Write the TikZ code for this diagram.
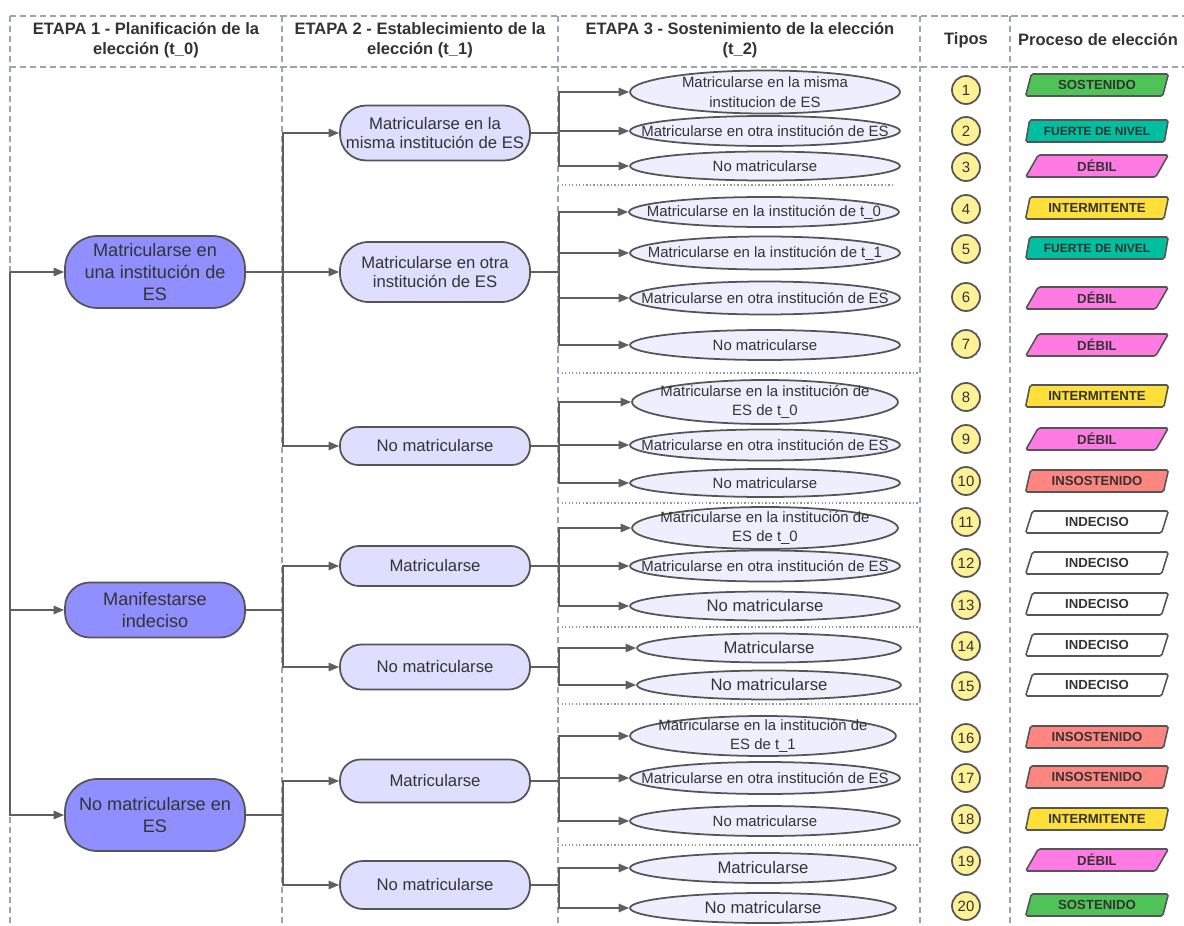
\documentclass[tikz,border=0pt]{standalone}
\usepackage{fontspec}
\setmainfont{Liberation Sans}
\usetikzlibrary{shapes.geometric,arrows.meta}

\definecolor{ink}{RGB}{51,51,51}
\definecolor{edge}{RGB}{85,85,85}
\definecolor{linkgray}{RGB}{95,95,95}
\definecolor{framegray}{RGB}{158,164,174}
\definecolor{sepgray}{RGB}{140,150,168}
\definecolor{etapaA}{RGB}{143,143,255}
\definecolor{etapaB}{RGB}{222,222,255}
\definecolor{etapaC}{RGB}{238,238,254}
\definecolor{amarillo}{RGB}{255,241,150}
\definecolor{verde}{RGB}{80,195,88}
\definecolor{turquesa}{RGB}{0,190,160}
\definecolor{rosa}{RGB}{255,122,226}
\definecolor{oro}{RGB}{255,223,60}
\definecolor{salmon}{RGB}{255,134,128}

\tikzset{
    frame/.style={draw=framegray, line width=0.6pt, dash pattern=on 3.5pt off 2.2pt},
    sep/.style={draw=sepgray, line width=0.6pt, dash pattern=on 0.8pt off 1.2pt},
    link/.style={draw=linkgray, line width=0.85pt, -{Triangle[length=6pt,width=4.8pt]}},
    head/.style={font=\bfseries\fontsize{9.4}{11.3}\selectfont, text=ink, align=center},
    t0/.style={draw=edge, line width=1pt, fill=etapaA, text=ink, align=center,
        minimum width=3.6cm, minimum height=#1*0.02cm, rounded corners=#1*0.009cm,
        inner sep=1pt, font=\fontsize{10.3}{12.5}\selectfont},
    t1/.style={draw=edge, line width=1pt, fill=etapaB, text=ink, align=center,
        minimum width=3.8cm, minimum height=#1*0.02cm, rounded corners=#1*0.0095cm,
        inner sep=1pt, font=\fontsize{9.5}{11.3}\selectfont},
    t2shape/.style={ellipse, draw=edge, line width=1pt, fill=etapaC,
        minimum width=5.4cm, minimum height=0.6cm, inner sep=0pt},
    t2txt/.style={align=center, text=ink, inner sep=0pt, font=\fontsize{8.5}{11.3}\selectfont},
    t2/.style={t2shape, label={[t2txt]center:#1}},
    t2big/.style={t2shape, label={[t2txt, font=\fontsize{9.5}{11.4}\selectfont]center:#1}},
    tipo/.style={circle, draw=edge, line width=1pt, fill=amarillo, minimum size=0.56cm,
        inner sep=0pt, text=ink, font=\fontsize{8.5}{10}\selectfont},
    proc/.style={trapezium, trapezium left angle=70, trapezium right angle=110,
        trapezium stretches=true, draw=edge, line width=0.9pt, minimum width=2.86cm,
        minimum height=0.44cm, inner sep=0pt, rounded corners=1pt, text=ink,
        font=\bfseries\fontsize{7.5}{9}\selectfont},
}

\begin{document}
\begin{tikzpicture}[x=0.02cm, y=-0.02cm]
    \useasboundingbox (0,0) rectangle (1184,926);

    % table frame
    \draw[frame] (10,16) -- (1184,16);
    \draw[frame] (10,67) -- (1184,67);
    \draw[frame] (10,16) -- (10,926);
    \draw[frame] (282,16) -- (282,926);
    \draw[frame] (558,16) -- (558,926);
    \draw[frame] (920,16) -- (920,926);
    \draw[frame] (1010,16) -- (1010,926);

    % groups of stage 3
    \draw[sep] (558,185) -- (895,185);
    \draw[sep] (558,373) -- (918,373);
    \draw[sep] (558,503) -- (918,503);
    \draw[sep] (558,627) -- (918,627);
    \draw[sep] (558,704) -- (918,704);
    \draw[sep] (558,845) -- (918,845);

    % headers
    \node[head] (h1) at (146,40) {ETAPA 1 -  Planificación de la\\elección (t\_0)};
    \node[head] (h2) at (420,40) {ETAPA 2 - Establecimiento de la\\elección (t\_1)};
    \node[head] (h3) at (740,40) {ETAPA 3 - Sostenimiento de la elección\\(t\_2)};
    \node[head] (h4) at (966,40) {Tipos};
    \node[head] (h5) at (1098,40) {Proceso de elección};

    % stage 1
    \node[t0=72] (a1) at (155,272) {Matricularse en\\una institución de\\ES};
    \node[t0=55] (a2) at (155,610) {Manifestarse\\indeciso};
    \node[t0=72] (a3) at (155,815) {No matricularse en\\ES};

    % stage 2
    \node[t1=55] (b1) at (435,133) {Matricularse en la\\misma institución de ES};
    \node[t1=60] (b2) at (435,272) {Matricularse en otra\\institución de ES};
    \node[t1=38] (b3) at (435,446) {No matricularse};
    \node[t1=40] (b4) at (435,566) {Matricularse};
    \node[t1=45] (b5) at (435,667) {No matricularse};
    \node[t1=43] (b6) at (435,781) {Matricularse};
    \node[t1=48] (b7) at (435,885) {No matricularse};

    % stage 3
    \node[t2={Matricularse en la misma\\institucion de ES}, minimum height=0.86cm] (c1) at (765,92) {};
    \node[t2={Matricularse en otra institución de ES}] (c2) at (765,131) {};
    \node[t2={No matricularse}, minimum height=0.58cm] (c3) at (765,166) {};
    \node[t2={Matricularse en la institución de t\_0}] (c4) at (764,212) {};
    \node[t2={Matricularse en la institución de t\_1}, minimum height=0.66cm] (c5) at (765,253) {};
    \node[t2={Matricularse en otra institución de ES}, minimum height=0.66cm] (c6) at (765,298) {};
    \node[t2={No matricularse}] (c7) at (765,345) {};
    \node[t2={Matricularse en la institución de\\ES de t\_0}, minimum height=0.88cm, minimum width=5.32cm] (c8) at (765,402) {};
    \node[t2={Matricularse en otra institución de ES}, minimum height=0.62cm] (c9) at (765,445) {};
    \node[t2={No matricularse}, minimum height=0.56cm] (c10) at (765,483) {};
    \node[t2={Matricularse en la institución de\\ES de t\_0}, minimum height=0.84cm, minimum width=5.32cm] (c11) at (765,528) {};
    \node[t2={Matricularse en otra institución de ES}, minimum height=0.62cm] (c12) at (765,566) {};
    \node[t2big={No matricularse}, minimum height=0.58cm] (c13) at (765,606) {};
    \node[t2big={Matricularse}, minimum height=0.58cm, minimum width=5.28cm] (c14) at (769,648) {};
    \node[t2big={No matricularse}, minimum height=0.58cm, minimum width=5.28cm] (c15) at (769,685) {};
    \node[t2={Matricularse en la institución de\\ES de t\_1}, minimum height=0.8cm, minimum width=5.32cm] (c16) at (763,736) {};
    \node[t2={Matricularse en otra institución de ES}, minimum height=0.64cm] (c17) at (765,778) {};
    \node[t2={No matricularse}] (c18) at (765,821) {};
    \node[t2big={Matricularse}, minimum width=5.32cm] (c19) at (763,868) {};
    \node[t2big={No matricularse}, minimum width=5.32cm] (c20) at (763,908) {};

    % tipos
    \node[tipo] (k1) at (966,90) {1};
    \node[tipo] (k2) at (966,131) {2};
    \node[tipo] (k3) at (966,167) {3};
    \node[tipo] (k4) at (966,209) {4};
    \node[tipo] (k5) at (966,249) {5};
    \node[tipo] (k6) at (966,297) {6};
    \node[tipo] (k7) at (966,344) {7};
    \node[tipo] (k8) at (966,397) {8};
    \node[tipo] (k9) at (966,439) {9};
    \node[tipo] (k10) at (966,481) {10};
    \node[tipo] (k11) at (966,522) {11};
    \node[tipo] (k12) at (966,563) {12};
    \node[tipo] (k13) at (966,605) {13};
    \node[tipo] (k14) at (966,646) {14};
    \node[tipo] (k15) at (966,686) {15};
    \node[tipo] (k16) at (966,738) {16};
    \node[tipo] (k17) at (966,778) {17};
    \node[tipo] (k18) at (966,819) {18};
    \node[tipo] (k19) at (966,861) {19};
    \node[tipo] (k20) at (966,906) {20};

    % proceso de eleccion
    \node[proc, fill=verde] (p1) at (1097,85) {SOSTENIDO};
    \node[proc, fill=turquesa, font=\bfseries\fontsize{6.8}{8}\selectfont] (p2) at (1097,131) {FUERTE DE NIVEL};
    \node[proc, fill=rosa] (p3) at (1097,166) {DÉBIL};
    \node[proc, fill=oro] (p4) at (1097,208) {INTERMITENTE};
    \node[proc, fill=turquesa, font=\bfseries\fontsize{6.8}{8}\selectfont] (p5) at (1097,248) {FUERTE DE NIVEL};
    \node[proc, fill=rosa] (p6) at (1097,298) {DÉBIL};
    \node[proc, fill=rosa] (p7) at (1097,345) {DÉBIL};
    \node[proc, fill=oro] (p8) at (1097,396) {INTERMITENTE};
    \node[proc, fill=rosa] (p9) at (1097,439) {DÉBIL};
    \node[proc, fill=salmon] (p10) at (1097,481) {INSOSTENIDO};
    \node[proc, fill=white] (p11) at (1097,522) {INDECISO};
    \node[proc, fill=white] (p12) at (1097,563) {INDECISO};
    \node[proc, fill=white] (p13) at (1097,604) {INDECISO};
    \node[proc, fill=white] (p14) at (1097,645) {INDECISO};
    \node[proc, fill=white] (p15) at (1097,685) {INDECISO};
    \node[proc, fill=salmon] (p16) at (1097,737) {INSOSTENIDO};
    \node[proc, fill=salmon] (p17) at (1097,777) {INSOSTENIDO};
    \node[proc, fill=oro] (p18) at (1097,819) {INTERMITENTE};
    \node[proc, fill=rosa] (p19) at (1097,860) {DÉBIL};
    \node[proc, fill=verde] (p20) at (1097,905) {SOSTENIDO};

    % trunk -> stage 1
    \coordinate (root) at (10,272);
    \draw[link] (root) -- (a1.west);
    \draw[link] (root) |- (a2.west);
    \draw[link] (root) |- (a3.west);

    % stage 1 -> stage 2
    \draw[link] (a1.east) -- +(37,0) |- (b1.west);
    \draw[link] (a1.east) -- (b2.west);
    \draw[link] (a1.east) -- +(37,0) |- (b3.west);
    \draw[link] (a2.east) -- +(37,0) |- (b4.west);
    \draw[link] (a2.east) -- +(37,0) |- (b5.west);
    \draw[link] (a3.east) -- +(37,0) |- (b6.west);
    \draw[link] (a3.east) -- +(37,0) |- (b7.west);

    % stage 2 -> stage 3
    \draw[link] (b1.east) -- +(28,0) |- (c1.west);
    \draw[link] (b1.east) -- +(28,0) |- (c2.west);
    \draw[link] (b1.east) -- +(28,0) |- (c3.west);
    \draw[link] (b2.east) -- +(28,0) |- (c4.west);
    \draw[link] (b2.east) -- +(28,0) |- (c5.west);
    \draw[link] (b2.east) -- +(28,0) |- (c6.west);
    \draw[link] (b2.east) -- +(28,0) |- (c7.west);
    \draw[link] (b3.east) -- +(28,0) |- (c8.west);
    \draw[link] (b3.east) -- +(28,0) |- (c9.west);
    \draw[link] (b3.east) -- +(28,0) |- (c10.west);
    \draw[link] (b4.east) -- +(28,0) |- (c11.west);
    \draw[link] (b4.east) -- +(28,0) |- (c12.west);
    \draw[link] (b4.east) -- +(28,0) |- (c13.west);
    \draw[link] (b5.east) -- +(28,0) |- (c14.west);
    \draw[link] (b5.east) -- +(28,0) |- (c15.west);
    \draw[link] (b6.east) -- +(28,0) |- (c16.west);
    \draw[link] (b6.east) -- +(28,0) |- (c17.west);
    \draw[link] (b6.east) -- +(28,0) |- (c18.west);
    \draw[link] (b7.east) -- +(28,0) |- (c19.west);
    \draw[link] (b7.east) -- +(28,0) |- (c20.west);
\end{tikzpicture}
\end{document}
